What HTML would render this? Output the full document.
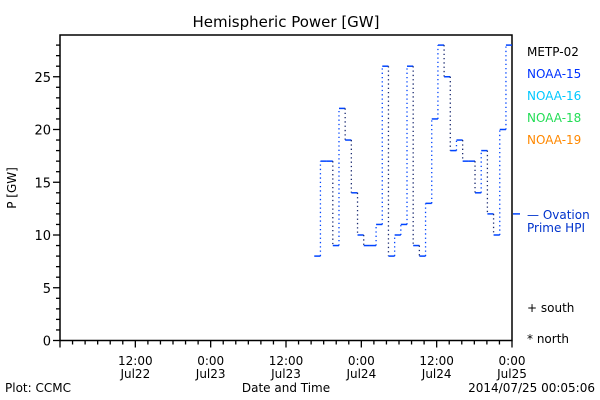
<!DOCTYPE html>
<html><head><meta charset="utf-8"><style>
body{margin:0;background:#fff;}
svg{display:block;font-family:"DejaVu Sans","Liberation Sans",sans-serif;}
</style></head><body>
<svg width="600" height="400" viewBox="0 0 600 400">
<rect width="600" height="400" fill="#fff"/>
<text x="286" y="27" font-size="15" text-anchor="middle">Hemispheric Power [GW]</text>
<g id="axes"></g>
<g id="series"></g>
<text x="16" y="188" font-size="12" transform="rotate(-90 16 188)" text-anchor="middle">P [GW]</text>
<text x="286" y="392" font-size="12" text-anchor="middle">Date and Time</text>
<text x="5" y="392" font-size="12">Plot: CCMC</text>
<text x="595" y="392" font-size="12" text-anchor="end">2014/07/25 00:05:06</text>
<g font-size="12">
<text x="527" y="56" fill="#000">METP-02</text>
<text x="527" y="78" fill="#0033ff">NOAA-15</text>
<text x="527" y="100" fill="#00c8ff">NOAA-16</text>
<text x="527" y="122" fill="#22dd55">NOAA-18</text>
<text x="527" y="144" fill="#ff8800">NOAA-19</text>
<text x="527" y="219" fill="#0033cc">— Ovation</text>
<text x="527" y="232" fill="#0033cc">Prime HPI</text>
<text x="527" y="312" fill="#000">+ south</text>
<text x="527" y="343" fill="#000">* north</text>
</g>
</svg>
<script>
const values=[8,17,17,9,22,19,14,10,9,9,11,26,8,10,11,26,9,8,13,21,28,25,18,19,17,17,14,18,12,10,20,28];
const startHour=40.5;
const stepHours=0.985;
const ovationValue=12;
const yTickLabels=["0","5","10","15","20","25"];
const xTickLabels=[["12:00","Jul22"],["0:00","Jul23"],["12:00","Jul23"],["0:00","Jul24"],["12:00","Jul24"],["0:00","Jul25"]];
const X0=60,X1=512,Y0=340.5,YT=35,HMAX=72,VMAX=(Y0-YT)/10.55;
const NS="http://www.w3.org/2000/svg";
function sx(h){return X0+(h/HMAX)*(X1-X0);}
function sy(v){return Y0-v/VMAX*(Y0-YT);}
function mk(t,a,p){const e=document.createElementNS(NS,t);for(const k in a)e.setAttribute(k,a[k]);p.appendChild(e);return e;}
const ax=document.getElementById('axes');
const frame=mk('rect',{x:X0,y:YT,width:X1-X0,height:Y0-YT,fill:'none',stroke:'#000','stroke-width':1.5},ax);


for(let v=0;v<=28;v++){const y=sy(v);const L=v%5==0?7:4;
 const t=mk('line',{x1:X0-L,x2:X0,y1:y,y2:y,stroke:'#000','stroke-width':1.3},ax);
 
 }
yTickLabels.forEach((s,i)=>{const t=mk('text',{x:X0-9,y:sy(i*5)+5,'font-size':13,'text-anchor':'end'},ax);t.textContent=s;
 
 });
for(let h=0;h<=HMAX;h+=2){const x=sx(h);const L=h%12==0?7:4;
 const t=mk('line',{x1:x,x2:x,y1:Y0,y2:Y0+L,stroke:'#000','stroke-width':1.3},ax);
 
 }
xTickLabels.forEach((s,i)=>{const x=sx(12*(i+1));
 [0,1].forEach(j=>{const t=mk('text',{x:x,y:365+j*13,'font-size':12,'text-anchor':'middle'},ax);t.textContent=s[j];
 
 });});
const g=document.getElementById('series');
let prev=null;
values.forEach((v,i)=>{const h0=startHour+i*stepHours;const h1=Math.min(HMAX,h0+stepHours);
 const y=sy(v);
 if(prev!==null){const c=mk('line',{x1:sx(h0),x2:sx(h0),y1:sy(prev),y2:y,stroke:v>prev?'#0044ff':'#1a2a70','stroke-width':1.3,'stroke-dasharray':'1.3 3'},g);
  
  }
 const s=mk('line',{x1:sx(h0),x2:sx(h1),y1:y,y2:y,stroke:'#0044ff','stroke-width':1.5},g);
 
 
 prev=v;});
const ov=mk('line',{x1:X1+1,x2:X1+8,y1:sy(ovationValue),y2:sy(ovationValue),stroke:'#0044ff','stroke-width':1.5},g);


</script>
</body></html>
